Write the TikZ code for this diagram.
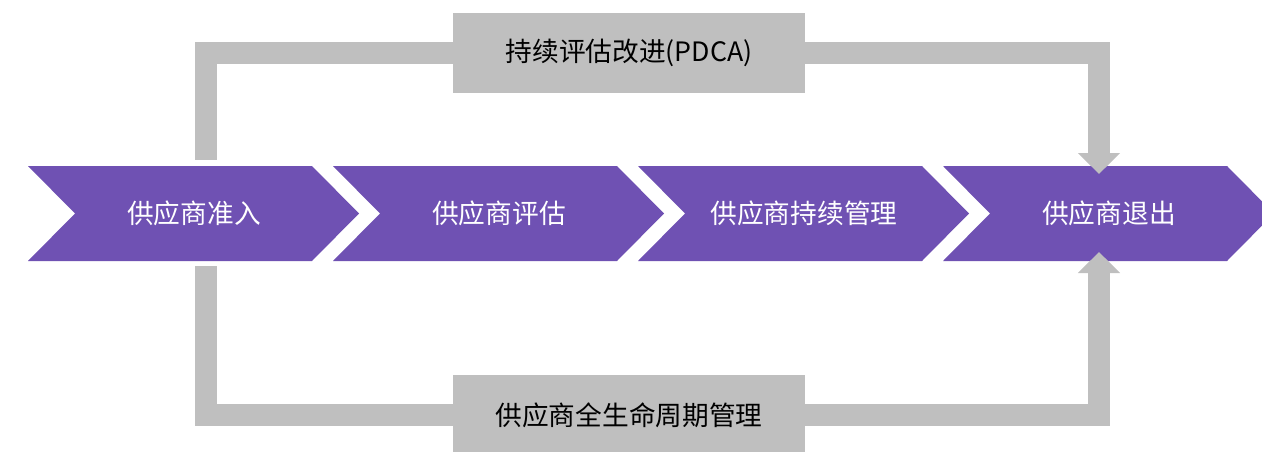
\documentclass[tikz,border=0pt]{standalone}
\usepackage{fontspec}
\newfontfamily\cjk{Noto Sans CJK SC}
\usetikzlibrary{positioning,calc,arrows.meta}

\definecolor{stagepurple}{RGB}{111,81,179}
\definecolor{loopgray}{RGB}{191,191,191}

\tikzset{
	stagetext/.style = {text=white, font={\cjk\fontsize{26.7}{30}\selectfont}},
	loopbox/.style = {fill=loopgray, minimum width=352pt, minimum height=80pt, inner sep=0pt, font={\cjk\fontsize{26.7}{30}\selectfont}},
	loopline/.style = {draw=loopgray, line width=22pt, line join=miter},
	looparrow/.style = {loopline, -{Triangle[width=41pt,length=21pt]}}
}

\begin{document}
\begin{tikzpicture}[x=1pt, y=-1pt]
		\clip (0,0) rectangle (1262,452);
		% stages
		\foreach \i/\txt in {1/供应商准入, 2/供应商评估, 3/供应商持续管理, 4/供应商退出}{
			\pgfmathsetmacro{\xa}{28+305*(\i-1)}
			\fill[stagepurple] (\xa,166) -- ++(284,0) -- ++(47,47.5) -- ++(-47,47.5) -- ++(-284,0) -- ++(47,-47.5) -- cycle;
			\node[stagetext] (c\i) at (\xa+166,213.5) {\txt};
		}
		\coordinate (c1top) at (206,160);
		\coordinate (c1bot) at (206,266);
		\coordinate (c4top) at (1099,174);
		\coordinate (c4bot) at (1099,252);
		% loops
		\node[loopbox] (pdca) at (629,53) {持续评估改进(PDCA)};
		\node[loopbox] (life) at (629,415) {供应商全生命周期管理};
		\draw[loopline] (pdca.west) -| (c1top);
		\draw[looparrow] (pdca.east) -| (c4top);
		\draw[loopline] (c1bot) |- (life.west);
		\draw[looparrow] (life.east) -| (c4bot);
	\end{tikzpicture}
\end{document}
